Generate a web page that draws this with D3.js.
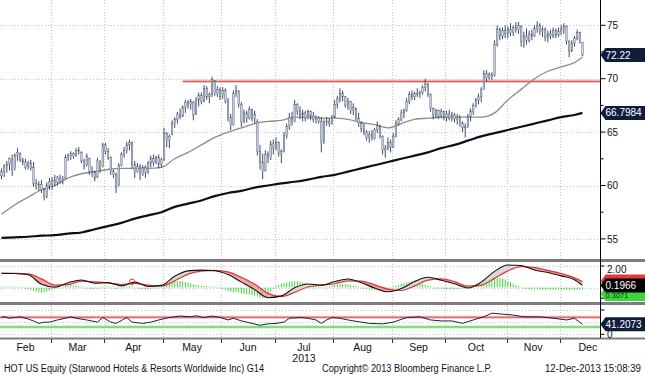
<!DOCTYPE html>
<html>
<head>
<meta charset="utf-8">
<script src="https://cdn.jsdelivr.net/npm/d3@7/dist/d3.min.js"></script>
<style>
  body { margin: 0; background: #fff; }
  svg { display: block; font-family: "Liberation Sans", Arial, sans-serif; }
</style>
</head>
<body>
<script>
// Months on the axis and their trading-day counts (Dec counted as a full month for label placement)
const months = ["Feb", "Mar", "Apr", "May", "Jun", "Jul", "Aug", "Sep", "Oct", "Nov", "Dec"];
const monthDays = [19, 20, 22, 22, 20, 22, 22, 20, 23, 20, 21];

// Daily OHLC, 1-Feb-2013 .. 12-Dec-2013
const open = [
  60.9,61.3,61.8,62.0,62.4,61.6,62.8,63.0,62.4,62.2,61.8,62.1,61.7,60.2,59.9,60.1,59.6,59.0,60.0,
  60.1,60.5,60.3,60.7,60.4,60.7,62.6,62.8,63.0,62.8,63.3,63.1,62.3,61.9,62.5,61.3,61.2,60.8,62.2,61.8,
  63.8,63.2,62.6,61.3,61.0,60.0,61.9,62.9,63.3,63.8,64.0,62.0,61.3,61.8,61.0,61.7,61.2,62.1,62.5,62.2,62.6,62.0,
  62.4,64.9,64.2,64.8,65.8,66.2,66.6,66.5,67.3,67.8,67.6,67.8,66.7,68.0,68.4,67.9,69.1,68.3,68.5,69.8,68.6,69.0,
  68.4,68.9,67.9,66.4,65.7,68.6,68.8,67.6,66.0,66.8,66.3,67.1,66.3,66.0,63.2,62.2,61.4,62.9,62.5,63.9,
  63.5,64.0,63.0,63.2,64.7,65.5,66.4,66.0,67.6,66.9,66.6,66.8,66.3,66.9,66.5,66.2,66.4,66.0,64.0,65.9,66.0,65.8,
  66.4,67.6,68.1,68.6,68.3,67.5,67.9,67.0,67.2,66.3,65.8,65.3,65.0,64.5,64.8,64.4,65.2,65.5,64.6,63.3,63.5,64.0,
  63.6,64.6,65.8,66.2,66.8,67.0,67.9,68.5,68.3,68.6,68.5,68.7,69.2,69.5,68.5,67.2,66.6,67.0,66.5,66.9,
  66.4,66.7,66.3,66.6,66.2,66.4,65.8,65.4,65.5,66.5,66.9,67.5,68.0,68.3,69.0,70.5,70.1,70.4,70.3,73.2,74.6,74.0,74.5,
  74.2,74.6,74.3,74.8,74.6,74.9,73.5,74.0,73.6,74.2,74.0,74.7,75.0,74.4,74.6,73.9,74.2,74.0,74.5,74.1,
  74.4,74.6,74.9,73.5,72.6,73.3,73.8,74.3,73.4
];
const high = [
  61.6,62.0,62.3,62.6,62.9,63.0,63.5,63.1,62.6,62.5,62.3,62.4,62.2,60.6,60.4,60.5,59.8,60.3,60.7,
  60.8,61.0,60.9,61.0,60.9,62.9,63.0,63.2,63.1,63.5,63.6,63.2,62.5,63.0,62.6,61.8,61.4,62.6,62.4,64.0,
  64.0,63.5,62.7,61.5,61.2,62.1,63.1,63.6,64.1,64.3,64.1,62.3,62.1,62.0,61.9,61.9,62.3,62.8,62.9,62.8,62.9,62.6,
  65.4,65.0,64.8,66.1,66.4,66.9,67.2,67.5,68.0,68.0,68.1,67.9,68.3,68.7,68.7,69.4,69.3,68.7,70.2,69.9,69.3,69.2,
  69.2,69.1,68.2,66.7,68.9,69.4,68.9,67.8,67.1,67.0,67.4,67.2,67.0,66.2,63.8,63.0,63.3,63.2,64.2,64.3,
  64.5,64.1,63.4,65.0,65.8,66.8,66.9,68.0,67.7,67.4,67.1,67.0,67.1,67.0,66.9,66.6,66.5,66.4,66.2,66.4,66.3,66.6,
  68.0,68.4,69.1,68.9,68.4,68.2,67.9,67.7,67.3,66.8,66.0,65.8,65.2,65.1,65.2,65.4,66.0,65.7,64.7,63.8,64.5,64.3,
  64.9,66.1,66.4,67.1,67.2,68.2,68.8,68.9,68.8,69.1,68.9,69.4,70.0,69.6,68.6,67.3,67.2,67.1,67.2,67.0,
  67.0,67.1,66.9,66.8,66.7,66.6,66.0,65.8,66.7,67.2,67.7,68.2,68.6,69.2,70.8,70.8,70.6,70.6,73.6,75.0,74.8,74.8,75.0,
  74.9,75.2,75.0,75.3,75.3,75.0,74.4,74.7,74.5,74.6,75.0,75.4,75.2,74.9,74.8,74.5,74.6,74.8,74.7,74.8,
  75.0,75.2,75.0,73.6,73.6,74.0,74.6,74.4,73.4
];
const low = [
  60.6,60.8,61.2,61.4,60.9,61.4,62.3,62.2,61.9,61.5,61.5,61.4,59.9,59.6,59.5,59.3,58.6,58.8,59.6,
  59.6,59.9,60.0,60.2,60.1,60.6,62.3,62.4,62.5,62.7,62.9,62.1,61.5,61.8,61.0,60.8,60.4,60.7,61.2,61.7,
  62.9,62.4,61.0,60.7,59.3,59.9,61.8,62.6,63.0,63.3,61.6,60.7,61.2,60.5,60.9,60.7,61.1,61.7,61.8,62.0,61.6,61.7,
  62.3,63.6,63.5,64.7,65.4,65.8,66.2,66.4,66.8,67.2,67.1,66.1,66.6,67.4,67.6,67.8,68.0,67.7,68.3,68.4,68.3,68.0,
  68.1,67.7,66.0,65.2,65.6,68.3,67.3,65.5,65.8,65.9,66.2,66.0,65.8,62.8,61.5,60.6,61.3,62.1,62.4,62.9,
  63.3,62.7,62.1,63.1,64.4,65.2,65.6,65.9,66.6,66.2,66.0,66.0,66.2,66.1,65.9,65.8,65.8,63.1,63.9,65.6,65.5,65.7,
  66.3,67.2,67.8,67.9,67.3,67.1,66.7,66.6,66.1,65.5,65.0,64.7,64.2,64.0,64.2,64.3,64.9,64.4,62.9,62.6,63.3,63.1,
  63.5,64.5,65.6,66.0,66.3,66.9,67.6,68.0,68.0,68.3,68.2,68.5,68.8,68.3,66.9,66.2,66.3,66.2,66.3,66.1,
  66.0,66.1,66.0,65.9,65.7,65.5,65.0,64.5,65.4,66.0,66.6,67.3,67.6,67.8,69.0,69.7,69.9,69.9,70.2,73.0,73.6,73.7,73.8,
  73.8,74.0,74.0,74.3,74.2,73.0,72.9,73.2,73.4,73.6,73.9,74.3,74.1,73.9,73.5,73.4,73.7,73.8,73.8,73.9,
  74.1,74.2,73.2,72.0,72.5,73.0,73.6,73.3,72.1
];
const close = [
  61.3,61.8,62.0,62.5,61.5,62.8,63.1,62.4,62.2,61.7,62.1,61.6,60.2,59.9,60.1,59.6,59.0,60.0,60.4,
  60.5,60.3,60.8,60.4,60.6,62.6,62.8,63.0,62.7,63.3,63.2,62.3,61.8,62.7,61.3,61.2,60.7,62.3,61.6,63.8,
  63.2,62.6,61.3,61.0,59.8,61.9,62.9,63.3,63.8,64.0,62.0,61.3,61.8,61.0,61.7,61.2,62.1,62.5,62.2,62.6,62.0,62.4,
  64.9,64.2,64.6,65.8,66.2,66.7,66.5,67.3,67.8,67.5,67.9,66.6,68.0,68.4,67.9,69.1,68.3,68.5,69.9,68.6,69.0,68.3,
  68.9,67.9,66.4,65.6,68.6,68.9,67.6,66.0,66.8,66.3,67.1,66.3,66.7,63.2,62.2,61.3,62.9,62.5,63.9,63.5,
  64.0,63.0,63.2,64.7,65.5,66.4,66.0,67.6,66.9,66.6,66.8,66.3,66.9,66.5,66.2,66.4,66.0,64.0,65.9,66.0,65.8,66.4,
  67.6,68.1,68.6,68.3,67.5,67.9,67.0,67.3,66.3,65.8,65.3,65.0,64.5,64.8,64.4,65.2,65.6,64.6,63.3,63.5,64.0,63.6,
  64.6,65.8,66.2,66.8,67.0,67.9,68.5,68.3,68.6,68.5,68.7,69.2,69.5,68.5,67.2,66.6,67.0,66.5,66.9,66.4,
  66.7,66.3,66.6,66.2,66.4,65.8,65.4,65.5,66.5,66.9,67.5,68.0,68.3,69.0,70.5,70.1,70.4,70.2,73.2,74.6,74.0,74.5,74.2,
  74.6,74.3,74.8,74.6,75.0,73.5,74.0,73.6,74.2,74.0,74.7,75.0,74.4,74.6,73.9,74.2,74.0,74.5,74.1,74.4,
  74.6,74.9,73.5,72.6,73.3,73.8,74.3,73.5,72.22
];

// Moving averages and MACD, read every 5 trading days
const maIdx = [0,5,10,15,20,25,30,35,40,45,50,55,60,65,70,75,80,85,90,95,100,105,110,115,120,125,130,135,140,145,150,155,160,165,170,175,180,185,190,195,200,205,210,215,218];
const ma50 = [57.3,58.2,58.9,59.6,60.0,60.7,61.1,61.3,61.5,61.6,61.6,61.6,61.7,62.5,63.1,63.8,64.5,65.0,65.4,65.8,66.0,66.1,66.4,66.4,66.3,66.3,66.2,65.9,65.7,65.4,65.8,66.2,66.3,66.4,66.4,66.4,66.4,66.8,68.0,69.0,70.0,70.7,71.1,71.5,72.0];
const ma200 = [55.1,55.15,55.2,55.3,55.35,55.5,55.6,55.9,56.2,56.5,56.9,57.2,57.5,58.0,58.3,58.6,59.0,59.3,59.5,59.8,60.0,60.2,60.35,60.55,60.8,61.0,61.3,61.6,61.9,62.2,62.5,62.8,63.1,63.5,63.8,64.2,64.6,64.9,65.2,65.5,65.8,66.1,66.4,66.6,66.7984];
const macd = [1.32,1.3,1.18,0.3,0.03,0.45,0.7,0.4,0.45,0.15,0.5,0.1,0.2,1.05,1.55,1.62,1.56,1.2,0.5,-0.2,-0.95,-0.78,-0.02,0.33,0.22,0.55,0.79,0.45,-0.05,-0.4,-0.1,0.55,0.95,0.68,0.35,-0.05,0.5,1.5,2.1,2.05,1.62,1.4,1.08,0.72,0.1966];
const signal = [1.32,1.31,1.26,0.8,0.22,0.26,0.6,0.52,0.42,0.28,0.38,0.22,0.14,0.62,1.25,1.52,1.6,1.45,0.95,0.3,-0.55,-0.85,-0.45,0.05,0.22,0.35,0.62,0.6,0.25,-0.15,-0.28,0.15,0.68,0.8,0.55,0.12,0.22,0.85,1.55,1.95,1.85,1.6,1.3,0.9,0.56];

// MACD histogram, daily
const hist = [
  0.05,0.05,0.04,0.04,0.03,0.03,0.02,0.0,-0.02,-0.05,-0.1,
  -0.18,-0.25,-0.33,-0.4,-0.45,-0.42,-0.35,-0.25,
  -0.15,-0.08,-0.02,0.02,0.06,0.1,
  0.14,0.16,0.15,0.12,0.08,0.04,
  0.0,-0.04,-0.07,-0.09,-0.08,-0.06,-0.03,
  0.02,0.04,0.03,0.0,-0.04,-0.08,
  -0.05,0.0,0.05,0.08,0.1,
  0.06,0.0,-0.05,-0.09,-0.11,-0.12,-0.11,-0.09,-0.06,-0.03,0.0,
  0.1,0.22,0.3,0.38,0.45,0.5,0.53,0.55,0.52,0.46,0.4,0.33,0.25,
  0.2,0.16,0.12,0.1,0.08,0.05,0.03,0.02,0.0,-0.03,
  -0.1,-0.18,-0.28,-0.36,-0.4,-0.38,-0.42,-0.5,-0.55,-0.58,-0.6,-0.65,-0.72,-0.8,-0.9,-0.95,-0.85,
  -0.6,-0.35,-0.1,0.1,0.2,0.28,0.35,0.42,0.48,0.52,0.54,0.52,0.48,
  0.42,0.35,0.3,0.24,0.18,0.12,0.06,0.0,
  0.02,0.05,0.1,0.15,
  0.2,0.24,0.27,0.28,0.27,0.24,0.2,0.14,0.08,
  0.02,-0.04,-0.08,-0.12,-0.15,-0.17,-0.18,-0.18,-0.17,-0.15,-0.12,-0.08,-0.03,
  0.05,0.12,0.2,0.28,0.36,0.42,0.48,0.52,0.5,0.45,0.38,0.3,
  0.22,0.14,0.06,-0.02,-0.07,-0.1,-0.12,-0.13,-0.13,-0.12,-0.11,-0.1,-0.09,-0.08,-0.06,-0.04,-0.02,
  0.05,0.12,0.2,0.28,0.38,0.5,0.6,0.7,0.78,0.85,0.88,0.85,0.78,0.68,0.55,0.42,0.3,0.18,0.08,0.0,
  -0.05,-0.08,-0.1,-0.12,-0.13,-0.14,-0.14,-0.15,-0.15,-0.15,-0.15,-0.15,-0.16,-0.16,-0.16,-0.17,-0.17,-0.17,-0.17,-0.17,-0.16,-0.16,-0.15
];

// RSI readings
const rsiIdx = [0,1,3,7,10,12,14,16,18,21,24,26,28,32,36,38,41,43,47,49,53,56,59,63,67,71,73,76,79,82,85,87,90,92,94,97,100,103,106,108,112,115,118,120,122,124,127,130,135,138,143,147,152,157,161,165,169,173,177,181,184,188,192,196,202,207,212,215,218];
const rsi = [70,72.6,66,72,63,55,45,50,50,59,66,72,66,59,50,69,50,45,69,50,45,50,59,69,75,72,76,69,75,70,59,66,55,50,45,37,43,45,50,66,69,66,59,45,59,69,66,59,50,45,43,50,69,72,59,55,55,45,59,72,87,83,79,72,72,66,59,66,41.2073];

// Axis ticks and reference levels
const priceTicks = [55, 60, 65, 70, 75];
const priceMinor = [57.5, 62.5, 67.5, 72.5];
const resistance = 69.75, resistanceFrom = 68;
const macdMark = { i: 49, v: 0.54 };

const W = 645, H = 376;
const svg = d3.select("body").append("svg").attr("width", W).attr("height", H);

const axisX = 600.5;
const x = d3.scaleLinear().domain([0, close.length - 1]).range([1.5, 582.5]);
const yP = d3.scaleLinear().domain([55, 75]).range([238.9, 25.3]);
const yM = d3.scaleLinear().domain([0, 2]).range([287.5, 266]);
const yR = d3.scaleLinear().domain([0, 100]).range([334.3, 310]);

// month start indices
const monthStart = [];
let acc = 0;
monthDays.forEach(d => { monthStart.push(acc); acc += d; });

const defs = svg.append("defs");
defs.append("clipPath").attr("id", "clipP").append("rect").attr("x", 0).attr("y", 0).attr("width", axisX).attr("height", 258);

// ---- grid
const grid = svg.append("g").attr("stroke", "#c4c4c4").attr("stroke-dasharray", "1,2").attr("stroke-width", 1);
monthStart.slice(1).forEach(s => {
  const gx = Math.round(x(s - 0.5)) + 0.5;
  grid.append("line").attr("x1", gx).attr("x2", gx).attr("y1", 0).attr("y2", 338);
});
priceTicks.forEach(p => grid.append("line").attr("x1", 0).attr("x2", axisX).attr("y1", Math.round(yP(p)) + 0.5).attr("y2", Math.round(yP(p)) + 0.5));
[2, 0].forEach(v => grid.append("line").attr("x1", 0).attr("x2", axisX).attr("y1", Math.round(yM(v)) + 0.5).attr("y2", Math.round(yM(v)) + 0.5));
[100, 50, 0].forEach(v => grid.append("line").attr("x1", 0).attr("x2", axisX).attr("y1", Math.round(yR(v)) + 0.5).attr("y2", Math.round(yR(v)) + 0.5));

// ---- price panel
const pg = svg.append("g").attr("clip-path", "url(#clipP)");

pg.append("line")
  .attr("x1", x(resistanceFrom)).attr("x2", axisX)
  .attr("y1", yP(resistance)).attr("y2", yP(resistance))
  .attr("stroke", "#f6c4c4").attr("stroke-width", 3.5);
pg.append("line")
  .attr("x1", x(resistanceFrom)).attr("x2", axisX)
  .attr("y1", yP(resistance)).attr("y2", yP(resistance))
  .attr("stroke", "#d84a4a").attr("stroke-width", 1);

const maLine = arr => d3.line()
  .x((d, k) => x(maIdx[k])).y(d => yP(d))
  .curve(d3.curveMonotoneX)(arr);

pg.append("path").attr("d", maLine(ma200)).attr("fill", "none").attr("stroke", "#0b0f1e").attr("stroke-width", 2.2);
pg.append("path").attr("d", maLine(ma50)).attr("fill", "none").attr("stroke", "#8c8c8c").attr("stroke-width", 1.3);

const bars = pg.append("g");
close.forEach((c, i) => {
  const bx = x(i);
  bars.append("line")
    .attr("x1", bx).attr("x2", bx)
    .attr("y1", yP(high[i])).attr("y2", yP(low[i]))
    .attr("stroke", "#2a3852").attr("stroke-width", 0.9);
  const top = yP(Math.max(open[i], c)), bot = yP(Math.min(open[i], c));
  bars.append("rect")
    .attr("x", bx - 0.8).attr("width", 1.6)
    .attr("y", top).attr("height", Math.max(1, bot - top))
    .attr("fill", "#c2cede").attr("stroke", "#3a4862").attr("stroke-width", 0.35);
});

// ---- MACD panel
const mpts = maIdx.map((i, k) => ({ i, m: macd[k], s: signal[k] }));
const cur = d3.curveMonotoneX;
defs.append("clipPath").attr("id", "sigUp").append("path")
  .attr("d", d3.area().x(d => x(d.i)).y0(262).y1(d => yM(d.m)).curve(cur)(mpts));
defs.append("clipPath").attr("id", "sigDn").append("path")
  .attr("d", d3.area().x(d => x(d.i)).y0(d => yM(d.m)).y1(302).curve(cur)(mpts));
const band = d3.area().x(d => x(d.i)).y0(d => yM(d.m)).y1(d => yM(d.s)).curve(cur);

const hg = svg.append("g");
hist.forEach((h, i) => {
  hg.append("line")
    .attr("x1", x(i)).attr("x2", x(i))
    .attr("y1", yM(0)).attr("y2", yM(h) + (h >= 0 ? -0.5 : 0.5))
    .attr("stroke", "#3fd43f").attr("stroke-width", 1);
});

svg.append("path").attr("d", band(mpts)).attr("fill", "#f4a3a3").attr("clip-path", "url(#sigUp)");
svg.append("path").attr("d", band(mpts)).attr("fill", "#d9d9d9").attr("clip-path", "url(#sigDn)");
svg.append("path").attr("d", d3.line().x(d => x(d.i)).y(d => yM(d.s)).curve(cur)(mpts))
  .attr("fill", "none").attr("stroke", "#d93636").attr("stroke-width", 1.2);
svg.append("path").attr("d", d3.line().x(d => x(d.i)).y(d => yM(d.m)).curve(cur)(mpts))
  .attr("fill", "none").attr("stroke", "#111").attr("stroke-width", 1.1);
svg.append("circle").attr("cx", x(macdMark.i)).attr("cy", yM(macdMark.v)).attr("r", 2.6)
  .attr("fill", "none").attr("stroke", "#d93636").attr("stroke-width", 1);

// ---- RSI panel
[[70, "#f3b8b8", "#e05353"], [30, "#b8efb8", "#45cc45"]].forEach(([v, glow, col]) => {
  svg.append("line").attr("x1", 0).attr("x2", axisX).attr("y1", yR(v)).attr("y2", yR(v)).attr("stroke", glow).attr("stroke-width", 3);
  svg.append("line").attr("x1", 0).attr("x2", axisX).attr("y1", yR(v)).attr("y2", yR(v)).attr("stroke", col).attr("stroke-width", 1);
});
svg.append("path")
  .attr("d", d3.line().x((d, k) => x(rsiIdx[k])).y(d => yR(d))(rsi))
  .attr("fill", "none").attr("stroke", "#1b2142").attr("stroke-width", 1);

// ---- separators
[[259, 3], [302, 3], [337.5, 2]].forEach(([yy, h]) => {
  svg.append("rect").attr("x", 0).attr("y", yy).attr("width", W).attr("height", h).attr("fill", "#7d7d7d");
});

// ---- right axis
svg.append("line").attr("x1", axisX).attr("x2", axisX).attr("y1", 0).attr("y2", 338).attr("stroke", "#000").attr("stroke-width", 1);
const ax = svg.append("g").attr("font-size", 10).attr("fill", "#111");
priceTicks.forEach(p => {
  ax.append("line").attr("x1", axisX).attr("x2", axisX + 5).attr("y1", yP(p)).attr("y2", yP(p)).attr("stroke", "#000");
  ax.append("text").attr("x", 607).attr("y", yP(p) + 3.6).text(p);
});
priceMinor.forEach(p => ax.append("line").attr("x1", axisX).attr("x2", axisX + 3).attr("y1", yP(p)).attr("y2", yP(p)).attr("stroke", "#000"));
[2, -1].forEach(v => ax.append("line").attr("x1", axisX).attr("x2", axisX + 4).attr("y1", yM(v)).attr("y2", yM(v)).attr("stroke", "#000"));
ax.append("text").attr("x", 607).attr("y", yM(2) + 7).text("2.00");
[100, 0].forEach(v => ax.append("line").attr("x1", axisX).attr("x2", axisX + 4).attr("y1", yR(v)).attr("y2", yR(v)).attr("stroke", "#000"));
ax.append("text").attr("x", 607).attr("y", yR(0) + 3.6).text("0");

function tag(cy, label, fill, color, size) {
  const g = svg.append("g");
  g.append("path")
    .attr("d", `M${axisX},${cy} L${axisX + 5},${cy - 7} L${W},${cy - 7} L${W},${cy + 7} L${axisX + 5},${cy + 7} Z`)
    .attr("fill", fill);
  if (label) {
    g.append("text").attr("x", 605.5).attr("y", cy + 3.6).attr("font-size", size || 10)
      .attr("fill", color).text(label);
  }
}
tag(yP(close[close.length - 1]), "72.22", "#0f1d3d", "#fff");
tag(yP(ma200[ma200.length - 1]), "66.7984", "#0f1d3d", "#fff");
tag(yM(signal[signal.length - 1]), "", "#e03a3a", "#fff");
tag(yM(-0.6), "0.3071", "#3fd43f", "#123012", 7.5);
tag(yM(macd[macd.length - 1]), "0.1966", "#000", "#fff");
tag(yR(rsi[rsi.length - 1]), "41.2073", "#0f1d3d", "#fff");

// ---- bottom axis
const bx = svg.append("g");
monthStart.slice(1).forEach(s => {
  const gx = Math.round(x(s - 0.5)) + 0.5;
  bx.append("line").attr("x1", gx).attr("x2", gx).attr("y1", 339).attr("y2", 343).attr("stroke", "#333");
});
months.forEach((m, k) => {
  const cx = x(monthStart[k] - 0.5 + monthDays[k] / 2);
  bx.append("text").attr("x", cx).attr("y", 350.5).attr("text-anchor", "middle").attr("font-size", 10.5).attr("fill", "#111").text(m);
});
bx.append("text").attr("x", x(monthStart[5] - 0.5 + monthDays[5] / 2)).attr("y", 361.5)
  .attr("text-anchor", "middle").attr("font-size", 10.5).attr("fill", "#111").text("2013");

// ---- footer
const ft = svg.append("g").attr("font-size", 10).attr("fill", "#111");
ft.append("text").attr("x", 4).attr("y", 372).attr("textLength", 260).attr("lengthAdjust", "spacingAndGlyphs")
  .text("HOT US Equity (Starwood Hotels & Resorts Worldwide Inc) G14");
ft.append("text").attr("x", 322).attr("y", 372).attr("textLength", 170).attr("lengthAdjust", "spacingAndGlyphs")
  .text("Copyright\u00A9 2013 Bloomberg Finance L.P.");
ft.append("text").attr("x", 545).attr("y", 372).attr("textLength", 96).attr("lengthAdjust", "spacingAndGlyphs")
  .text("12-Dec-2013 15:08:39");
</script>
</body>
</html>
